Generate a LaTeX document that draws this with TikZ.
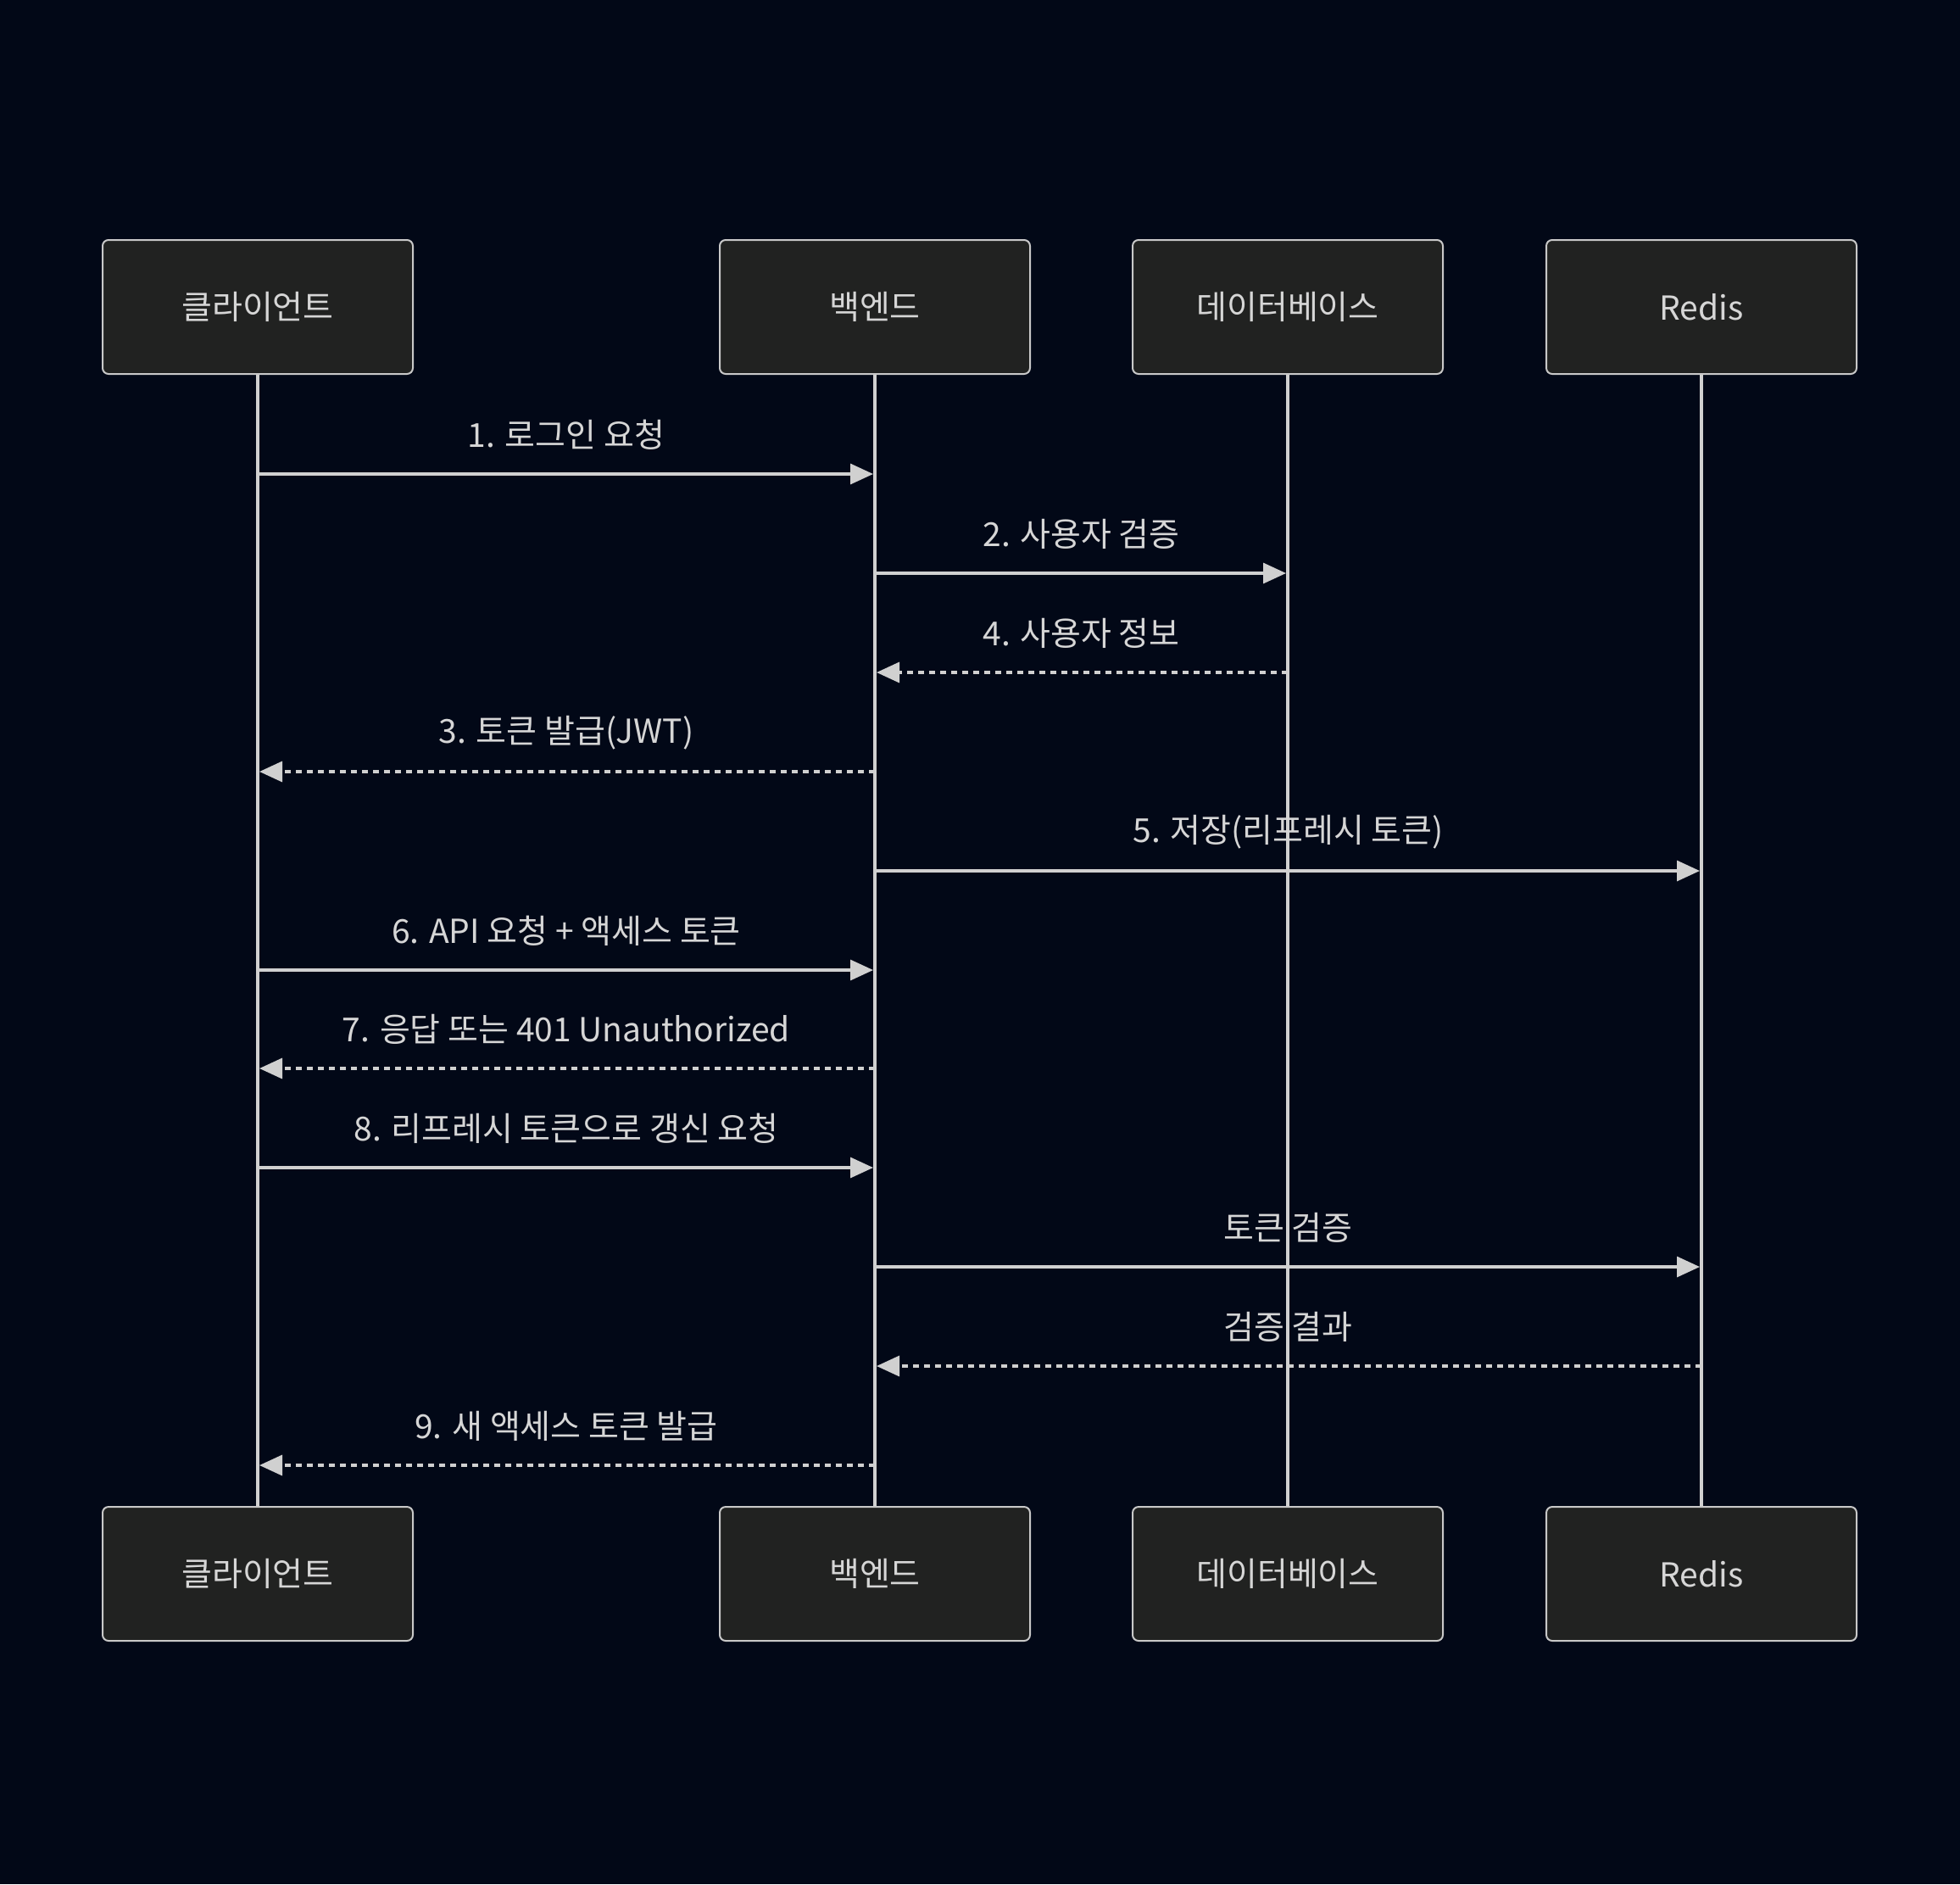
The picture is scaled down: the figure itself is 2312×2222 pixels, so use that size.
\documentclass[tikz,border=0pt]{standalone}
\usepackage{fontspec}
\setmainfont{Noto Sans CJK KR}
\usetikzlibrary{arrows.meta,calc}
\definecolor{bgc}{HTML}{020817}
\definecolor{boxfill}{HTML}{212221}
\definecolor{boxline}{HTML}{C8C8C8}
\definecolor{linec}{HTML}{D0D0D0}
\definecolor{txtc}{HTML}{D6D6D6}
\tikzset{
  actor/.style={draw=boxline, fill=boxfill, line width=2pt, rounded corners=7pt,
    minimum width=366pt, minimum height=158pt, inner sep=0pt,
    text=txtc, font=\fontsize{39}{43}\selectfont},
  lifeline/.style={draw=linec, line width=4pt},
  msgline/.style={draw=linec, line width=3.3pt, -{Triangle[length=27pt,width=24pt]}, shorten >=2pt},
  reply/.style={msgline, dash pattern=on 7pt off 6pt},
  lbl/.style={text=txtc, font=\fontsize{39}{43}\selectfont, inner sep=0pt}
}
\newcommand\mymsg[5]{%
  \coordinate (s#3) at (#1.south |- 0,#3);
  \coordinate (t#3) at (#2.south |- 0,#3);
  \node[lbl] (l#3) at ($(s#3)!0.5!(t#3)+(0,-46)$) {#5};
  \draw[#4] (s#3) -- (t#3);
}
\begin{document}
\begin{tikzpicture}[x=1pt,y=-1pt]
\fill[bgc] (0,0) rectangle (2312,2222);
\useasboundingbox (0,0) rectangle (2312,2222);
% top actors
\node[actor] (cT) at (304,362) {클라이언트};
\node[actor] (bT) at (1032,362) {백엔드};
\node[actor] (dT) at (1519,362) {데이터베이스};
\node[actor] (rT) at (2007,362) {Redis};
% bottom actors
\node[actor] (cB) at (304,1856) {클라이언트};
\node[actor] (bB) at (1032,1856) {백엔드};
\node[actor] (dB) at (1519,1856) {데이터베이스};
\node[actor] (rB) at (2007,1856) {Redis};
% lifelines
\draw[lifeline] (cT.south) -- (cB.north);
\draw[lifeline] (bT.south) -- (bB.north);
\draw[lifeline] (dT.south) -- (dB.north);
\draw[lifeline] (rT.south) -- (rB.north);
% messages
\mymsg{cT}{bT}{559}{msgline}{1. 로그인 요청}
\mymsg{bT}{dT}{676}{msgline}{2. 사용자 검증}
\mymsg{dT}{bT}{793}{reply}{4. 사용자 정보}
\mymsg{bT}{cT}{910}{reply}{3. 토큰 발급(JWT)}
\mymsg{bT}{rT}{1027}{msgline}{5. 저장(리프레시 토큰)}
\mymsg{cT}{bT}{1144}{msgline}{6. API 요청 + 액세스 토큰}
\mymsg{bT}{cT}{1260}{reply}{7. 응답 또는 401 Unauthorized}
\mymsg{cT}{bT}{1377}{msgline}{8. 리프레시 토큰으로 갱신 요청}
\mymsg{bT}{rT}{1494}{msgline}{토큰 검증}
\mymsg{rT}{bT}{1611}{reply}{검증 결과}
\mymsg{bT}{cT}{1728}{reply}{9. 새 액세스 토큰 발급}
\end{tikzpicture}
\end{document}
